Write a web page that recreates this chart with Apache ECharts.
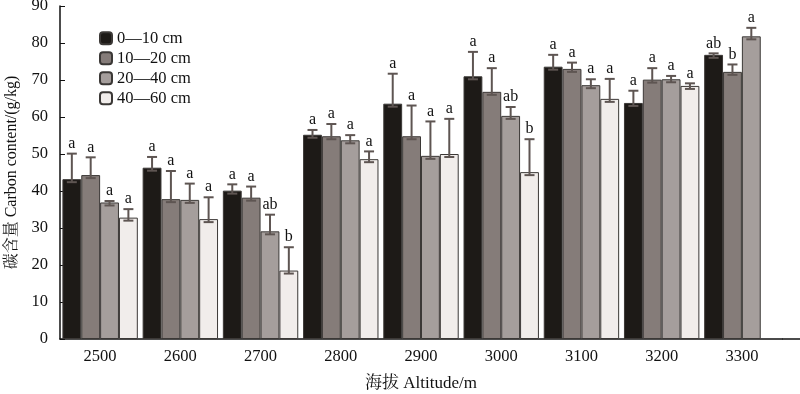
<!DOCTYPE html>
<html><head><meta charset="utf-8">
<script src="https://cdn.jsdelivr.net/npm/echarts@6/dist/echarts.min.js"></script>
<style>html,body{margin:0;padding:0;background:#fff;overflow:hidden}#c{width:800px;height:394px}</style>
</head><body><div id="c"></div>
<script>
var categories = ['2500','2600','2700','2800','2900','3000','3100','3200','3300'];
var depthNames = ['0\u201410 cm','10\u201420 cm','20\u201440 cm','40\u201460 cm'];
var d0_10  = [43.2, 46.3, 40.1, 55.2, 63.6, 71.0, 73.6, 63.8, 76.8];
var d10_20 = [44.3, 37.8, 38.2, 54.8, 54.8, 66.8, 73.0, 70.1, 72.2];
var d20_40 = [36.9, 37.6, 29.1, 53.7, 49.5, 60.3, 68.6, 70.2, 81.8];
var d40_60 = [32.8, 32.4, 18.5, 48.6, 50.0, 45.1, 64.9, 68.4, null];
var e0_10  = [6.9, 2.9, 1.7, 1.3, 8.1, 6.6, 3.2, 3.3, 0.4];
var e10_20 = [4.8, 7.6, 3.0, 3.3, 8.3, 6.4, 1.7, 3.1, 2.0];
var e20_40 = [0.4, 4.4, 4.5, 1.4, 9.3, 2.4, 1.6, 0.9, 2.3];
var e40_60 = [2.3, 5.9, 6.3, 2.1, 9.5, 8.9, 5.4, 0.7, null];
var l0_10  = ['a','a','a','a','a','a','a','a','ab'];
var l10_20 = ['a','a','a','a','a','a','a','a','b'];
var l20_40 = ['a','a','ab','a','a','ab','a','a','a'];
var l40_60 = ['a','a','b','a','a','b','a','a',''];
var yTicks = {min: 0, max: 90, interval: 10};

var values = [d0_10, d10_20, d20_40, d40_60];
var errs = [e0_10, e10_20, e20_40, e40_60];
var letters = [l0_10, l10_20, l20_40, l40_60];
var colors = ['#1d1a17', '#857c79', '#a59e9c', '#f1edeb'];
var serif = '"Liberation Serif","Noto Serif CJK SC","Noto Sans CJK SC",serif';
var catGap = 0.06;

var errData = [];
for (var s = 0; s < 4; s++) {
  for (var i = 0; i < categories.length; i++) {
    if (values[s][i] == null) continue;
    errData.push([i, s, values[s][i], values[s][i] + errs[s][i], letters[s][i]]);
  }
}

var series = [];
for (var s = 0; s < 4; s++) {
  series.push({
    name: depthNames[s], type: 'bar', data: values[s],
    barGap: '0%', barCategoryGap: (catGap * 100) + '%',
    itemStyle: {color: colors[s], borderColor: '#3b3836', borderWidth: 1},
    emphasis: {disabled: true}, animation: false
  });
}
series.push({
  type: 'custom', name: 'err', z: 10, animation: false,
  encode: {x: 0, y: 3},
  data: errData,
  renderItem: function (params, api) {
    var ci = api.value(0), si = api.value(1), v = api.value(2), top = api.value(3);
    var lt = errData[params.dataIndex][4];
    var band = api.size([1, 0])[0];
    var bw = band * (1 - catGap) / 4;
    var c = api.coord([ci, v]);
    var x = c[0] - band * (1 - catGap) / 2 + bw * (si + 0.5);
    var yv = c[1] + 3;
    var yt = api.coord([ci, top])[1];
    var hw = 5;
    var st = {stroke: '#5e5552', lineWidth: 2};
    return {type: 'group', children: [
      {type: 'line', shape: {x1: x, y1: yv, x2: x, y2: yt}, style: st},
      {type: 'line', shape: {x1: x - hw, y1: yt, x2: x + hw, y2: yt}, style: st},
      {type: 'line', shape: {x1: x - hw, y1: yv, x2: x + hw, y2: yv}, style: st},
      {type: 'text', x: x, y: yt - 2, style: {text: lt, fill: '#111', font: '16px ' + serif, align: 'center', verticalAlign: 'bottom'}}
    ]};
  }
});

var chart = echarts.init(document.getElementById('c'), null, {renderer: 'canvas'});
chart.setOption({
  animation: false,
  backgroundColor: '#fff',
  grid: {left: 60, right: 18, top: 6, bottom: 55, containLabel: false, outerBoundsMode: 'none'},
  legend: {
    data: depthNames, orient: 'vertical', left: 99, top: 30, padding: 0,
    itemWidth: 12, itemHeight: 12, itemGap: 3.5,
    textStyle: {fontFamily: serif, fontSize: 16.5, color: '#111'},
    selectedMode: false
  },
  xAxis: {
    type: 'category', data: categories,
    name: '海拔 Altitude/m', nameLocation: 'middle', nameGap: 36,
    nameTextStyle: {fontFamily: serif, fontSize: 17, color: '#111'},
    axisLine: {lineStyle: {color: '#111', width: 1.5}},
    axisTick: {show: false},
    axisLabel: {fontFamily: serif, fontSize: 16.5, color: '#111', margin: 9}
  },
  yAxis: {
    type: 'value', min: yTicks.min, max: yTicks.max, interval: yTicks.interval,
    name: '碳含量 Carbon content/(g/kg)', nameLocation: 'middle', nameGap: 40,
    nameTextStyle: {fontFamily: serif, fontSize: 16, color: '#111'},
    axisLine: {show: true, lineStyle: {color: '#111', width: 1.5}},
    axisTick: {show: true, inside: true, length: 5, lineStyle: {color: '#111'}},
    splitLine: {show: false},
    axisLabel: {fontFamily: serif, fontSize: 16.5, color: '#111', margin: 12}
  },
  series: series
});
var y0 = chart.convertToPixel({yAxisIndex: 0}, 0);
var xEnd = chart.getWidth() - 18;
chart.setOption({graphic: [{type: 'line', silent: true, shape: {x1: xEnd, y1: y0, x2: chart.getWidth(), y2: y0}, style: {stroke: '#111', lineWidth: 1.5}}]});
</script></body></html>
